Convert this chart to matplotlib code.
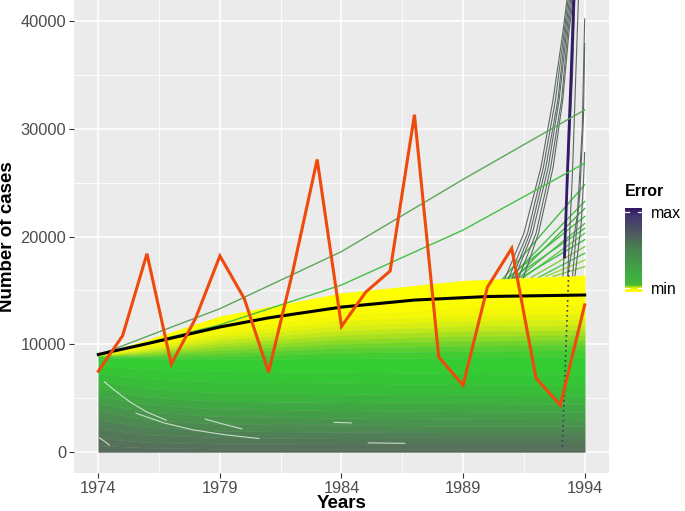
### Ensemble of simulated case trajectories vs. observed cases
### (recreation of a ggplot-style figure)

import numpy as np
import matplotlib
matplotlib.use('Agg')
from matplotlib import pyplot as plt
from matplotlib.colors import LinearSegmentedColormap

params = {'font.family': ['Liberation Sans', 'DejaVu Sans'],
          'xtick.labelsize': 11.8,
          'ytick.labelsize': 11.8,
          'xtick.color': '#333333',
          'ytick.color': '#333333',
          'xtick.labelcolor': '#4D4D4D',
          'ytick.labelcolor': '#4D4D4D'}
plt.rcParams.update(params)


###############################################################################
### data
###############################################################################

# observed cases, one per year
years = [1974, 1975, 1976, 1977, 1978, 1979, 1980, 1981, 1982, 1983, 1984,
         1985, 1986, 1987, 1988, 1989, 1990, 1991, 1992, 1993, 1994]
cases = [7500, 10800, 18400, 8150, 12400, 18200, 14250, 7400, 16800, 27150,
         11650, 14850, 16800, 31300, 8800, 6200, 15300, 18900, 6850, 4350,
         13650]

# best fit (black)
fit_years = [1974, 1976, 1979, 1981, 1984, 1987, 1990, 1994]
fit_cases = [9050, 10050, 11600, 12450, 13450, 14100, 14430, 14570]

# ensemble envelope: boundary curves (top -> bottom) at knot years,
# each with the colour of the band right below it
knot_years = [1974, 1976, 1979, 1984, 1989, 1994]
band_top = [
    [9000, 10400, 12600, 14750, 15900, 16400],
    [8990, 10150, 12100, 14000, 14900, 15300],
    [8980, 9950, 11700, 13300, 14000, 14300],
    [8965, 9800, 11300, 12700, 13300, 13550],
    [8950, 9650, 10950, 12150, 12650, 12850],
    [8935, 9520, 10650, 11700, 12150, 12300],
    [8920, 9400, 10350, 11250, 11650, 11750],
    [8905, 9280, 10050, 10850, 11200, 11300],
    [8890, 9160, 9750, 10450, 10750, 10850],
    [8875, 9040, 9450, 10050, 10300, 10400],
    [8855, 8920, 9150, 9650, 9850, 9950],
    [8830, 8800, 8850, 9200, 9350, 9450],
    [8780, 8650, 8600, 8700, 8750, 8800],
    [8000, 7700, 7500, 7400, 7300, 7200],
    [7300, 6800, 6500, 6400, 6250, 6150],
    [6600, 5900, 5500, 5400, 5300, 5200],
    [5900, 5100, 4700, 4600, 4500, 4450],
    [5200, 4400, 4000, 3850, 3750, 3700],
    [4500, 3700, 3300, 3150, 3050, 3000],
    [3800, 3000, 2600, 2500, 2400, 2400],
    [3000, 2300, 1950, 1850, 1800, 1800],
    [2200, 1600, 1350, 1250, 1250, 1250],
    [1300, 900, 750, 700, 700, 700],
    [600, 400, 300, 300, 300, 300],
]
band_bottom = [0, 0, 0, 0, 0, 0]
band_colors = ['#ffff00', '#fefe00', '#fbfb01', '#f4f804', '#e8f30a',
               '#d6ee12', '#c0e818', '#a6e01e', '#8cda24', '#72d42a',
               '#58ce30', '#42cc32', '#33cc33', '#35c635', '#38bd39',
               '#3cb33d', '#40a842', '#449e47', '#48944c', '#4c8a51',
               '#508055', '#537858', '#56715a', '#586c5c']

# white gaps between ensemble lines
streak_x = [[1974.25, 1974.8, 1975.3, 1976.0, 1976.8],
            [1975.55, 1976.7, 1977.9, 1979.2, 1980.6],
            [1974.05, 1974.25, 1974.45],
            [1978.4, 1979.2, 1979.9],
            [1983.7, 1984.4],
            [1985.1, 1986.6]]
streak_y = [[6500, 5500, 4650, 3700, 2950],
            [3600, 2700, 2050, 1600, 1250],
            [1300, 1000, 650],
            [3050, 2550, 2150],
            [2750, 2700],
            [850, 800]]

# two green outliers growing from 1974
out_years = [1974, 1979, 1984, 1989, 1994]
out_upper = [9000, 13300, 18600, 25300, 31750]
out_lower = [9000, 11800, 15500, 20600, 26800]

# green fan at the end: start year, start value, value in 1994
fan_start = [1990.6, 1990.9, 1991.1, 1990.8, 1991.3, 1991.0,
             1991.5, 1991.4, 1991.8, 1992.1, 1992.4, 1992.7]
fan_from = [16000, 16100, 16100, 16100, 16200, 16100,
            16200, 16200, 16200, 16200, 16300, 16300]
fan_end = [24800, 23250, 22600, 21850, 21200, 20750,
           20300, 19700, 19050, 18450, 17800, 17200]
fan_colors = ['#3fbf3f', '#44c144', '#4cae4c', '#3cc43c', '#55b84a', '#44c144',
              '#5cc84a', '#3fbf3f', '#7ccc40', '#4cc44c', '#a0d838', '#8cd23c']

# grey bundle shooting up after 1990
grey_y = [16000, 20300, 26400, 32700, 38900, 42500]
grey_x = [[1990.7, 1991.5, 1992.2, 1992.7, 1993.1, 1993.3],
          [1990.85, 1991.65, 1992.3, 1992.8, 1993.15, 1993.35],
          [1991.0, 1991.75, 1992.4, 1992.9, 1993.2, 1993.4],
          [1991.1, 1991.85, 1992.5, 1992.95, 1993.25, 1993.45],
          [1991.25, 1992.0, 1992.6, 1993.05, 1993.3, 1993.5],
          [1991.45, 1992.1, 1992.7, 1993.1, 1993.35, 1993.55]]

# steep grey lines right at the end
steep_x = [[1993.1, 1993.3, 1993.5, 1993.6],
           [1993.3, 1993.5, 1993.65, 1993.75],
           [1993.3, 1993.7, 1993.9, 1994.0],
           [1993.5, 1993.8, 1993.95, 1994.0],
           [1993.6, 1993.85, 1993.95, 1994.0]]
steep_y = [[16000, 25000, 35000, 42500],
           [16300, 26000, 36000, 42500],
           [16300, 22000, 30000, 40200],
           [16300, 24000, 31000, 37900],
           [16300, 21000, 25000, 27800]]

# max-error trajectory (purple)
max_x = [1993.17, 1993.3, 1993.45, 1993.56]
max_y = [18100, 26500, 35500, 42500]

# dotted column of large-error points around 1993
dot_x = [1993.08, 1993.35]
dot_y = [500, 17000]

# error colour scale
err_pos = [0.0, 0.04, 0.08, 0.24, 0.52, 0.68, 0.88, 1.0]
err_col = ['#ffff00', '#f0f500', '#44bb33', '#3fa846', '#4a8050',
           '#4f5b5f', '#45396e', '#2e1660']


###############################################################################
### plotting
###############################################################################

fig = plt.figure(figsize=(6.85, 5.11), dpi=100)
ax = fig.add_axes([74 / 685, 1 - 473 / 511, 535 / 685, 473 / 511])
ax.set_facecolor('#EBEBEB')

# grid
ax.set_xticks([1974, 1979, 1984, 1989, 1994])
ax.set_xticks([1976.5, 1981.5, 1986.5, 1991.5], minor=True)
ax.set_yticks([0, 10000, 20000, 30000, 40000])
ax.set_yticks([5000, 15000, 25000, 35000], minor=True)
ax.grid(which='major', color='white', lw=1.2, zorder=0)
ax.grid(which='minor', color='white', lw=0.6, zorder=0)
ax.set_axisbelow(True)

# outliers below the envelope
for i in range(len(fan_start)):
    ax.plot([fan_start[i], 1994], [fan_from[i], fan_end[i]],
            color=fan_colors[i], lw=1.0, zorder=1)
for xs in grey_x:
    ax.plot(xs, grey_y, color='#5b6866', lw=0.8, zorder=1)
for xs, ys in zip(steep_x, steep_y):
    ax.plot(xs, ys, color='#5b6866', lw=0.8, zorder=1)
ax.plot(max_x, max_y, color='#35196a', lw=2.0, zorder=1)

# envelope of the ensemble
for i in range(len(band_top)):
    lower = band_top[i + 1] if i + 1 < len(band_top) else band_bottom
    ax.fill_between(knot_years, lower, band_top[i], color=band_colors[i],
                    lw=0.3, edgecolor=band_colors[i], zorder=2)

for xs, ys in zip(streak_x, streak_y):
    ax.plot(xs, ys, color='white', lw=0.8, alpha=0.7, zorder=3)

ax.plot(dot_x, dot_y, color='#3d3d5c', lw=1.2, ls=(0, (1, 2)), zorder=3)

ax.plot(out_years, out_upper, color='#5aa85a', lw=1.0, zorder=3)
ax.plot(out_years, out_lower, color='#44c044', lw=1.0, zorder=3)

ax.plot(fit_years, fit_cases, color='black', lw=2.2, zorder=4)
ax.plot(years, cases, color='#EF4A0C', lw=2.2, zorder=5, solid_joinstyle='miter')

ax.set_xlim(1973, 1995)
ax.set_ylim(-1950, 41950)
for s in ax.spines.values():
    s.set_visible(False)
ax.tick_params(which='major', length=3.5, width=0.8, pad=2)
ax.tick_params(which='minor', length=0)

fig.text(8 / 685, 1 - 236.5 / 511, 'Number of cases', rotation=90,
         ha='center', va='center', fontsize=13.5, fontweight='bold')
fig.text(341.5 / 685, 1 - 503 / 511, 'Years', ha='center', va='center',
         fontsize=13.5, fontweight='bold')

# colour bar legend
cmap = LinearSegmentedColormap.from_list('err', list(zip(err_pos, err_col)))
cax = fig.add_axes([625 / 685, 1 - 292 / 511, 17 / 685, 84 / 511])
cax.imshow(np.linspace(1, 0, 200).reshape(-1, 1), cmap=cmap, aspect='auto',
           extent=[0, 1, 0, 1])
cax.set_xlim(0, 1)
cax.set_ylim(0, 1)
cax.axis('off')
for yy in [0.05, 0.95]:
    cax.plot([0, 0.22], [yy, yy], color='white', lw=0.9)
    cax.plot([0.78, 1], [yy, yy], color='white', lw=0.9)

fig.text(625 / 685, 1 - 196 / 511, 'Error', fontsize=11.5, fontweight='bold',
         va='baseline')
fig.text(651 / 685, 1 - 213 / 511, 'max', fontsize=11.5, va='center')
fig.text(651 / 685, 1 - 289 / 511, 'min', fontsize=11.5, va='center')

plt.savefig('out.png', dpi=100)
